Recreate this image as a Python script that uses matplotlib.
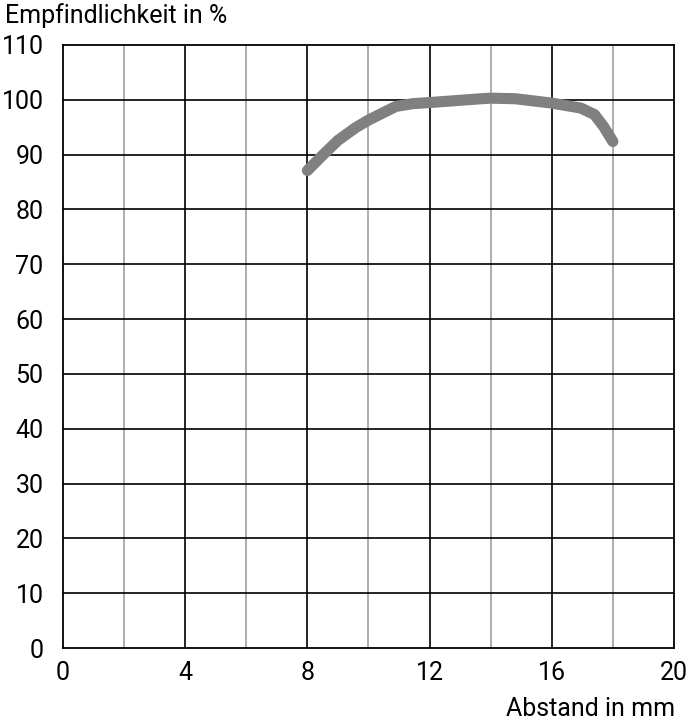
import matplotlib.pyplot as plt
import numpy as np

# sensitivity curve
abstand_mm = [8.0, 8.5, 9.0, 9.6, 10.0, 10.5, 10.9, 11.45, 12.0, 13.7, 14.0,
              14.8, 16.0, 16.95, 17.4, 17.7, 18.0]
empfindlichkeit = [87.1, 89.9, 92.6, 95.0, 96.3, 97.7, 98.8, 99.3, 99.5, 100.2, 100.3,
                   100.2, 99.4, 98.5, 97.3, 95.1, 92.4]

x_major = [0, 4, 8, 12, 16, 20]
x_minor = [2, 6, 10, 14, 18]
y_ticks = list(range(0, 111, 10))

plt.rcParams['font.family'] = ['Roboto', 'DejaVu Sans']

fig = plt.figure(figsize=(6.88, 7.2), dpi=100)
ax = fig.add_axes([0.0916, 0.1, 0.888, 0.8375])

ax.set_xlim(0, 20)
ax.set_ylim(0, 110)

# grid: gray minor verticals, black majors
for xv in x_minor:
    ax.axvline(xv, color='#a0a0a0', lw=1.2, zorder=1)
for xv in x_major[1:-1]:
    ax.axvline(xv, color='black', lw=1.2, zorder=1)
for yv in y_ticks[1:-1]:
    ax.axhline(yv, color='black', lw=1.2, zorder=1)

ax.plot(abstand_mm, empfindlichkeit, color='#808080', lw=8,
        solid_capstyle='round', solid_joinstyle='round', zorder=3)

ax.set_xticks(x_major)
ax.set_yticks(y_ticks)
ax.tick_params(axis='both', length=0, labelsize=18)
ax.tick_params(axis='x', pad=9)
ax.tick_params(axis='y', pad=14)

for s in ax.spines.values():
    s.set_linewidth(1.3)
    s.set_color('black')

fig.text(0.007, 0.968, 'Empfindlichkeit in %', fontsize=18, ha='left', va='baseline')
fig.text(0.982, 0.005, 'Abstand in mm', fontsize=18, ha='right', va='baseline')

fig.savefig('out.png', dpi=100)
